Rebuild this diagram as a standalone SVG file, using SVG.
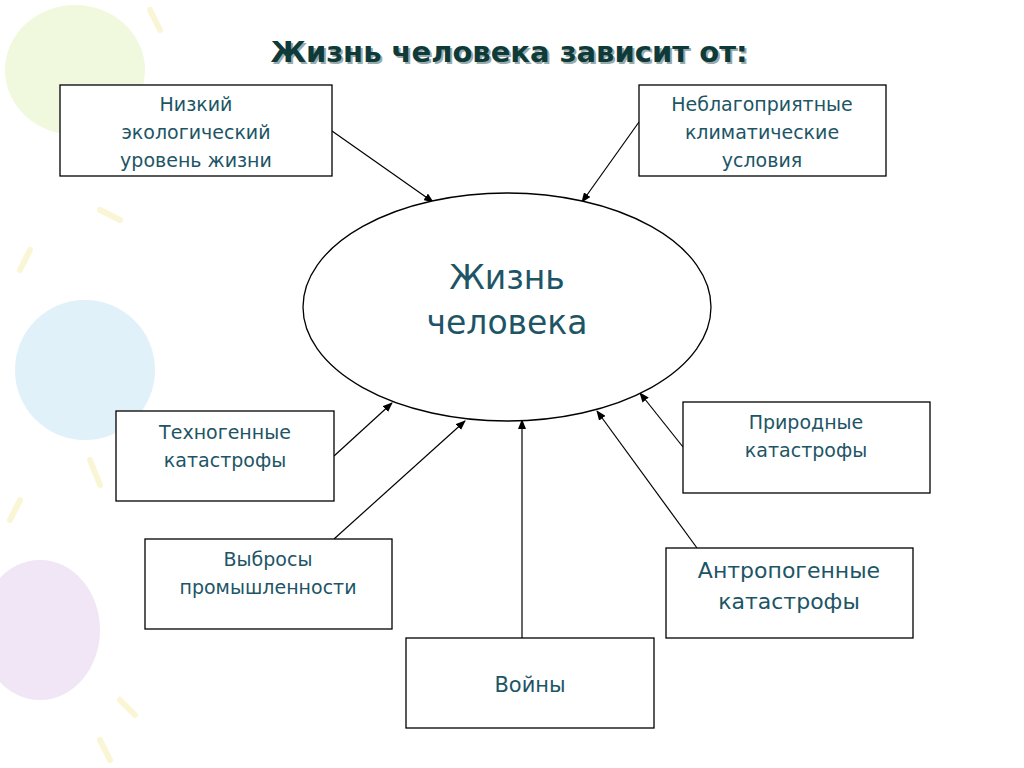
<svg xmlns="http://www.w3.org/2000/svg" width="1024" height="768" viewBox="0 0 1024 768">
<style>
.b{fill:#fff;stroke:#000;stroke-width:1.3}
.t{font-family:"DejaVu Sans","Noto Sans",sans-serif;font-size:19px;fill:#1d5566;text-anchor:middle}
.L{font-size:33px}
.M{font-size:22px}
.c line{stroke:#000;stroke-width:1.2;marker-end:url(#a)}
</style>
<defs><marker id="a" markerWidth="10" markerHeight="8" refX="9" refY="4" orient="auto" markerUnits="userSpaceOnUse"><path d="M0,0L10,4L0,8z" fill="#000"/></marker></defs>
<rect width="1024" height="768" fill="#fff"/>
<g id="bg" opacity="0.35">
<ellipse cx="75" cy="70" rx="70" ry="65" fill="#d6f0a0"/>
<ellipse cx="85" cy="370" rx="70" ry="70" fill="#a8d8f0"/>
<ellipse cx="40" cy="630" rx="60" ry="70" fill="#d8b8e8"/>
<g stroke="#f2e88a" stroke-width="6" stroke-linecap="round"><line x1="150" y1="10" x2="160" y2="30"/><line x1="100" y1="210" x2="120" y2="220"/><line x1="30" y1="250" x2="20" y2="270"/><line x1="90" y1="460" x2="100" y2="485"/><line x1="20" y1="500" x2="10" y2="520"/><line x1="120" y1="700" x2="135" y2="715"/><line x1="100" y1="740" x2="110" y2="760"/></g>
</g>
<text x="511" y="64" font-family="'DejaVu Sans','Noto Sans',sans-serif" font-size="29" font-weight="bold" fill="#9aa" text-anchor="middle">Жизнь человека зависит от:</text>
<text x="509" y="62" font-family="'DejaVu Sans','Noto Sans',sans-serif" font-size="29" font-weight="bold" fill="#0f3a3a" text-anchor="middle">Жизнь человека зависит от:</text>
<g class="c">
<line x1="332" y1="131" x2="433" y2="202"/>
<line x1="639" y1="122" x2="582" y2="202"/>
<line x1="334" y1="456" x2="392" y2="403"/>
<line x1="334" y1="539" x2="465" y2="421"/>
<line x1="522" y1="638" x2="522" y2="420"/>
<line x1="697" y1="548" x2="597" y2="411"/>
<line x1="683" y1="447" x2="640" y2="393"/>
</g>
<g id="n1"><rect class="b" x="60" y="85" width="272" height="91"/><text class="t" x="196" y="111">Низкий</text><text class="t" x="196" y="139">экологический</text><text class="t" x="196" y="167">уровень жизни</text></g>
<g id="n2"><rect class="b" x="639" y="85" width="247" height="91"/><text class="t" x="762" y="111">Неблагоприятные</text><text class="t" x="762" y="139">климатические</text><text class="t" x="762" y="167">условия</text></g>
<g id="center"><ellipse class="b" cx="507" cy="307" rx="204" ry="114"/><text class="t L" x="507" y="289">Жизнь</text><text class="t L" x="507" y="334">человека</text></g>
<g id="n3"><rect class="b" x="116" y="411" width="218" height="90"/><text class="t" x="225" y="439">Техногенные</text><text class="t" x="225" y="467">катастрофы</text></g>
<g id="n4"><rect class="b" x="683" y="402" width="247" height="91"/><text class="t" x="806" y="429">Природные</text><text class="t" x="806" y="457">катастрофы</text></g>
<g id="n5"><rect class="b" x="145" y="539" width="247" height="90"/><text class="t" x="268" y="566">Выбросы</text><text class="t" x="268" y="594">промышленности</text></g>
<g id="n6"><rect class="b" x="666" y="548" width="247" height="90"/><text class="t M" x="789" y="578">Антропогенные</text><text class="t M" x="789" y="609">катастрофы</text></g>
<g id="n7"><rect class="b" x="406" y="638" width="248" height="90"/><text class="t" x="530" y="692" style="font-size:21px">Войны</text></g>
</svg>
